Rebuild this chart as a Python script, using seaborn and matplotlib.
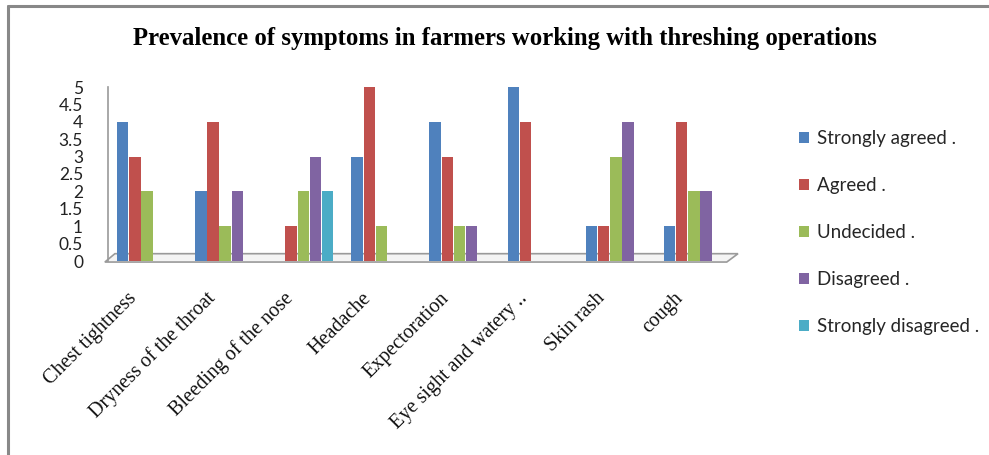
import matplotlib
matplotlib.use("Agg")
import matplotlib.pyplot as plt
from matplotlib.patches import Polygon
from matplotlib.lines import Line2D
from matplotlib.transforms import ScaledTranslation
import seaborn as sns
import pandas as pd

categories = ["Chest tightness", "Dryness of the throat", "Bleeding of the nose",
              "Headache", "Expectoration", "Eye sight and watery ..",
              "Skin rash", "cough"]
series_names = ["Strongly agreed .", "Agreed .", "Undecided .",
                "Disagreed .", "Strongly disagreed ."]
strongly_agreed = [4, 2, 0, 3, 4, 5, 1, 1]
agreed = [3, 4, 1, 5, 3, 4, 1, 4]
undecided = [2, 1, 2, 1, 1, 0, 3, 2]
disagreed = [0, 2, 3, 0, 1, 0, 4, 2]
strongly_disagreed = [0, 0, 2, 0, 0, 0, 0, 0]
colors = ["#4F81BD", "#C0504D", "#9BBB59", "#8064A2", "#4BACC6"]
yticks = [0, 0.5, 1, 1.5, 2, 2.5, 3, 3.5, 4, 4.5, 5]

values = [strongly_agreed, agreed, undecided, disagreed, strongly_disagreed]
rows = []
for name, vals in zip(series_names, values):
    for c, v in zip(categories, vals):
        rows.append({"Symptom": c, "Response": name, "Count": v})
df = pd.DataFrame(rows)

sns.set_theme(style="white")
fig = plt.figure(figsize=(9.89, 4.55), dpi=100)
W, H = 989, 455
ax = fig.add_axes([108 / W, (H - 261) / H, 625 / W, 174 / H])

sns.barplot(data=df, x="Symptom", y="Count", hue="Response",
            order=categories, hue_order=series_names, palette=colors,
            width=0.78, gap=0.06, saturation=1, ax=ax, legend=True,
            edgecolor="none", zorder=3)

ax.set_xlim(-0.5, len(categories) - 0.5)
ax.set_ylim(0, 5)
ax.set_yticks(yticks)
ax.set_yticklabels([f"{t:g}" for t in yticks], family="Lato", fontsize=12.5, color="#222222")
ax.tick_params(axis="y", length=0, pad=18)
ax.tick_params(axis="x", length=0, pad=20)
ax.set_xticks(range(len(categories)))
ax.set_xticklabels(categories, rotation=45, ha="right", rotation_mode="anchor",
                   family="Liberation Serif", fontsize=14.5, color="#111111")
shift = ScaledTranslation(-20 / 100, 0, fig.dpi_scale_trans)
for lab in ax.get_xticklabels():
    lab.set_transform(lab.get_transform() + shift)
ax.set_xlabel("")
ax.set_ylabel("")
for s in ["top", "right", "bottom"]:
    ax.spines[s].set_visible(False)
ax.spines["left"].set_color("#999999")
ax.spines["left"].set_linewidth(1.2)
ax.patch.set_alpha(0)

# 3D-like floor
floor = Polygon([(-0.005, -0.006), (0.99, -0.006), (1.008, 0.042), (0.011, 0.042)],
                closed=True, transform=ax.transAxes, clip_on=False,
                facecolor="#f4f4f4", edgecolor="#9a9a9a", linewidth=1.2, zorder=1)
ax.add_patch(floor)

handles, labels = ax.get_legend_handles_labels()
ax.get_legend().remove()
fig.legend(handles, labels, loc="upper left", bbox_to_anchor=(782 / W, 1 - 113 / H),
           frameon=False, handlelength=0.55, handleheight=0.55, handletextpad=0.4,
           labelspacing=1.6, prop={"family": "Lato", "size": 13.5})

fig.text(505 / W, 1 - 38 / H,
         "Prevalence of symptoms in farmers working with threshing operations",
         ha="center", va="center", family="Liberation Serif", fontweight="bold",
         fontsize=17.8, color="#000000")

# outer border
fig.add_artist(Line2D([8 / W, 1.0], [1 - 6 / H, 1 - 6 / H], transform=fig.transFigure,
                      color="#888888", linewidth=2.2))
fig.add_artist(Line2D([8 / W, 8 / W], [1 - 6 / H, 0], transform=fig.transFigure,
                      color="#888888", linewidth=2.2))

fig.savefig("out.png", dpi=100, facecolor="white")
